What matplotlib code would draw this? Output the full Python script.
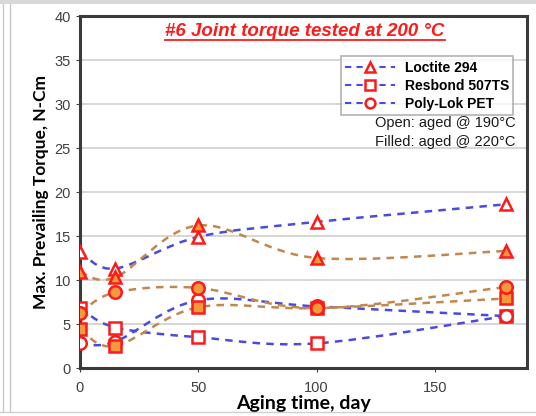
import numpy as np
import matplotlib
matplotlib.use('Agg')
import matplotlib.pyplot as plt
from matplotlib.path import Path
from matplotlib.patches import PathPatch, Rectangle
from matplotlib.lines import Line2D

plt.rcParams['font.family'] = ['Liberation Sans', 'DejaVu Sans']

days = [0, 15, 50, 100, 180]

# open joints, aged @ 190C
loctite_open = [13.2, 11.3, 14.9, 16.6, 18.6]
resbond_open = [6.8, 4.6, 3.5, 2.8, 5.9]
polylok_open = [2.8, 3.0, 7.7, 7.0, 5.9]

# filled joints, aged @ 220C
loctite_filled = [10.9, 10.3, 16.2, 12.5, 13.3]
resbond_filled = [4.4, 2.5, 6.9, 6.8, 7.9]
polylok_filled = [6.25, 8.6, 9.1, 6.8, 9.2]

names = ['Loctite 294', 'Resbond 507TS', 'Poly-Lok PET']
markers = ['^', 's', 'o']

BLUE = '#4a4ae0'
BROWN = '#c0874f'
RED = '#ff1a1a'
ORANGE = '#f39a3c'
DASH = (0, (3, 2.5))


def smooth_path(xs, ys, tension=0.5):
    # cardinal spline through the points, drawn as cubic bezier segments
    xs = np.asarray(xs, float)
    ys = np.asarray(ys, float)
    n = len(xs)
    verts = [(xs[0], ys[0])]
    codes = [Path.MOVETO]
    for i in range(n - 1):
        i0 = max(i - 1, 0)
        i3 = min(i + 2, n - 1)
        c1 = (xs[i] + (xs[i + 1] - xs[i0]) * tension / 3,
              ys[i] + (ys[i + 1] - ys[i0]) * tension / 3)
        c2 = (xs[i + 1] - (xs[i3] - xs[i]) * tension / 3,
              ys[i + 1] - (ys[i3] - ys[i]) * tension / 3)
        verts += [c1, c2, (xs[i + 1], ys[i + 1])]
        codes += [Path.CURVE4] * 3
    return Path(verts, codes)


fig = plt.figure(figsize=(5.36, 4.16), dpi=100)
ax = fig.add_axes([80 / 536, 48 / 416, 447 / 536, 352 / 416])

for vals, m in zip([loctite_open, resbond_open, polylok_open], markers):
    ax.add_patch(PathPatch(smooth_path(days, vals), fill=False, ec=BLUE,
                           lw=1.8, ls=DASH, zorder=2))
    ax.plot(days, vals, ls='none', marker=m, ms=9, mfc='white', mec=RED,
            mew=1.8, zorder=4)

for vals, m in zip([loctite_filled, resbond_filled, polylok_filled], markers):
    ax.add_patch(PathPatch(smooth_path(days, vals), fill=False, ec=BROWN,
                           lw=1.8, ls=DASH, zorder=2))
    ax.plot(days, vals, ls='none', marker=m, ms=9, mfc=ORANGE, mec=RED,
            mew=1.8, zorder=5)

ax.set_xlim(0, 189)
ax.set_ylim(0, 40)
ax.set_xticks([0, 50, 100, 150])
ax.set_yticks(range(0, 41, 5))
ax.yaxis.grid(True, color='#d0d0d0', lw=1.2)
ax.set_axisbelow(True)
ax.tick_params(colors='#404040', labelsize=10.5, length=3, width=0.8)
ax.tick_params(axis='x', pad=6)
for sp in ax.spines.values():
    sp.set_color('#3a3a3a')
    sp.set_linewidth(2.2)

ax.set_xlabel('Aging time, day', fontsize=14, fontweight='bold',
              family=['Lato', 'DejaVu Sans'], labelpad=0)
ax.set_ylabel('Max. Prevailing Torque, N-Cm', fontsize=12.5, fontweight='bold',
              family=['Lato', 'DejaVu Sans'], labelpad=4)

# legend shows the open-joint styling
handles = [Line2D([], [], color=BLUE, lw=1.5, ls=DASH, marker=m,
                  ms=7, mfc='white', mec=RED, mew=1.8) for m in markers]
leg = ax.legend(handles, names, loc='upper right', bbox_to_anchor=(0.985, 0.905),
                prop={'weight': 'bold', 'size': 10},
                frameon=True, fancybox=False, edgecolor='#a0a0a0',
                handlelength=3.6, borderpad=0.3, labelspacing=0.3,
                handletextpad=0.7)
leg.get_frame().set_linewidth(1.2)

ax.text(0.975, 0.697, 'Open: aged @ 190°C', transform=ax.transAxes,
        ha='right', va='center', fontsize=10.5, color='#1a1a1a')
ax.text(0.975, 0.643, 'Filled: aged @ 220°C', transform=ax.transAxes,
        ha='right', va='center', fontsize=10.5, color='#1a1a1a')

title = ax.text(0.503, 0.955, '#6 Joint torque tested at 200 °C',
                transform=ax.transAxes, ha='center', va='center',
                fontsize=13.5, fontweight='bold', style='italic', color=RED)

# underline the title
fig.canvas.draw()
bb = title.get_window_extent().transformed(fig.transFigure.inverted())
fig.add_artist(Line2D([bb.x0, bb.x1], [bb.y0 + 0.002, bb.y0 + 0.002],
                      color=RED, lw=1.3, transform=fig.transFigure))

# outer frame
fig.add_artist(Rectangle((0, 0.99), 1, 0.01, transform=fig.transFigure,
                         color='#d8d8d8', lw=0))
for x in (3 / 536, 10 / 536):
    fig.add_artist(Line2D([x, x], [0.01, 0.99], color='#c8c8c8', lw=1,
                          transform=fig.transFigure))
fig.add_artist(Line2D([0, 1], [4 / 416, 4 / 416], color='#d0d0d0', lw=1,
                      transform=fig.transFigure))

fig.savefig('out.png', dpi=100)
